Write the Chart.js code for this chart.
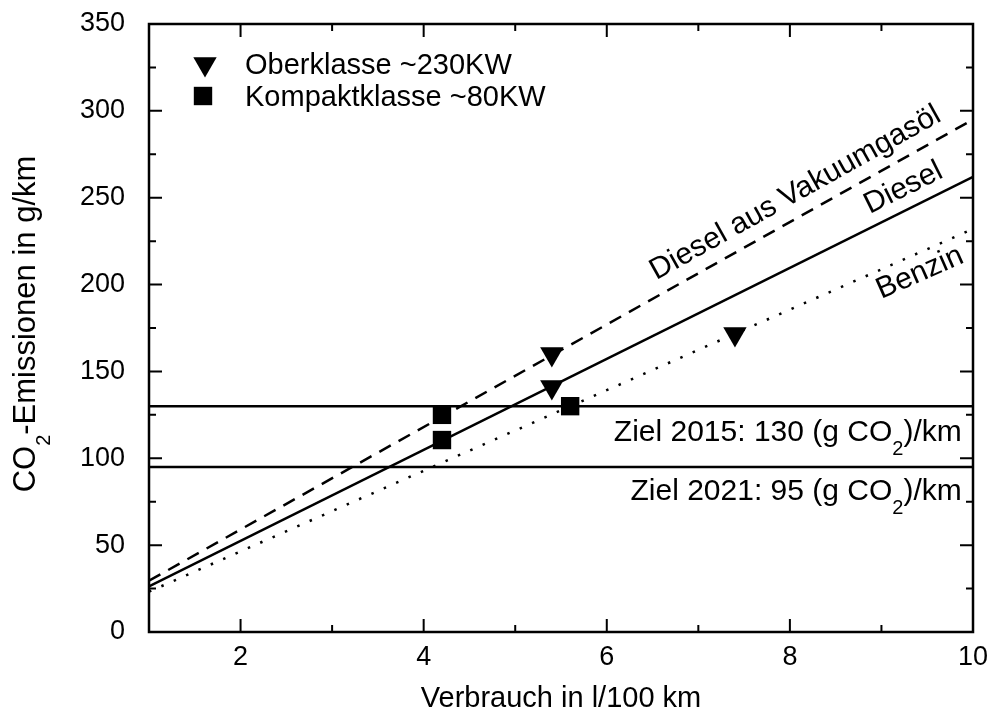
<!DOCTYPE html>
<html>
<head>
<meta charset="utf-8">
<script src="https://cdn.jsdelivr.net/npm/chart.js@4.4.1/dist/chart.umd.min.js"></script>
<style>
  html, body { margin: 0; padding: 0; background: #fff; }
  canvas { display: block; }
</style>
</head>
<body>
<canvas id="co2Chart" width="994" height="722"></canvas>
<script>
// --- data ---
const lineX = [1, 10];
const dieselVakuumY = [29.5, 295];
const dieselY = [26.2, 262];
const benzinY = [23.2, 232];
const ziel2015Y = [130, 130];
const ziel2021Y = [95, 95];

const oberklasseX = [5.4, 5.4, 7.4];
const oberklasseY = [160, 141, 171.5];
const kompaktX = [4.2, 4.2, 5.6];
const kompaktY = [125, 110.5, 130];

const xTickLabels = [2, 4, 6, 8, 10];
const xMinorTicks = [1, 3, 5, 7, 9];
const yTickLabels = [0, 50, 100, 150, 200, 250, 300, 350];
const yMinorTicks = [25, 75, 125, 175, 225, 275, 325];

const legendLabels = ['Oberklasse ~230KW', 'Kompaktklasse ~80KW'];

// text placed on the plot (anchor in data units)
const lineNotes = [
    { text: 'Diesel aus Vakuumgasöl', at: [8.06, 252.7], along: dieselVakuumY },
    { text: 'Diesel', at: [9.24, 255.6], along: dieselY },
    { text: 'Benzin', at: [9.42, 206.7], along: benzinY },
];
const zielNotes = [
    { parts: [['Ziel 2015: 130 (g CO'], ['2', true], [')/km']], at: [9.877, 116.3] },
    { parts: [['Ziel 2021: 95 (g CO'], ['2', true], [')/km']], at: [9.877, 82.3] },
];

const FONT = '"Liberation Sans", Arial, Helvetica, sans-serif';

function toPoints(xs, ys) {
    return xs.map((x, i) => ({ x, y: ys[i] }));
}

function richWidth(ctx, parts, size) {
    let w = 0;
    parts.forEach(([t, sub]) => {
        ctx.font = `${sub ? Math.round(size * 0.66) : size}px ${FONT}`;
        w += ctx.measureText(t).width;
    });
    return w;
}

// text with subscripts, left edge at x, baseline at y
function drawRich(ctx, parts, x, y, size) {
    parts.forEach(([t, sub]) => {
        ctx.font = `${sub ? Math.round(size * 0.66) : size}px ${FONT}`;
        ctx.fillText(t, x, sub ? y + size * 0.48 : y);
        x += ctx.measureText(t).width;
    });
}

function markerOpts(ds) {
    return { pointStyle: ds.pointStyle, radius: ds.pointRadius, rotation: ds.rotation || 0, borderWidth: 0 };
}

function noOverflow(s) {
    s.paddingTop = 0; s.paddingBottom = 0; s.paddingLeft = 0; s.paddingRight = 0;
}

const framePlugin = {
    id: 'frameAndNotes',
    afterDraw(chart) {
        const { ctx, chartArea: a, scales } = chart;
        const xs = scales.x, ys = scales.y;
        ctx.save();
        ctx.strokeStyle = '#000';
        ctx.fillStyle = '#000';
        ctx.lineWidth = 2.5;
        ctx.strokeRect(a.left, a.top, a.right - a.left, a.bottom - a.top);

        // inward ticks on all four sides
        const tick = (len, vals, horizontal) => {
            vals.forEach((v) => {
                ctx.beginPath();
                if (horizontal) {
                    const px = xs.getPixelForValue(v);
                    ctx.moveTo(px, a.bottom); ctx.lineTo(px, a.bottom - len);
                    ctx.moveTo(px, a.top); ctx.lineTo(px, a.top + len);
                } else {
                    const py = ys.getPixelForValue(v);
                    ctx.moveTo(a.left, py); ctx.lineTo(a.left + len, py);
                    ctx.moveTo(a.right, py); ctx.lineTo(a.right - len, py);
                }
                ctx.stroke();
            });
        };
        ctx.lineWidth = 2;
        tick(13, xTickLabels, true);
        tick(7, xMinorTicks, true);
        tick(13, yTickLabels, false);
        tick(7, yMinorTicks, false);

        // legend
        const sets = chart.data.datasets;
        const legendRows = [[sets[5], 205, 64], [sets[6], 203, 96]];
        legendRows.forEach(([ds, lx, ly], i) => {
            Chart.helpers.drawPoint(ctx, markerOpts(ds), lx, ly);
            ctx.font = `29px ${FONT}`;
            ctx.textAlign = 'left';
            ctx.textBaseline = 'alphabetic';
            ctx.fillText(legendLabels[i], 245, ly + 29 * 0.358);
        });

        // rotated labels along the lines
        lineNotes.forEach((n) => {
            const ang = Math.atan2(
                ys.getPixelForValue(n.along[1]) - ys.getPixelForValue(n.along[0]),
                xs.getPixelForValue(lineX[1]) - xs.getPixelForValue(lineX[0])
            );
            ctx.save();
            ctx.translate(xs.getPixelForValue(n.at[0]), ys.getPixelForValue(n.at[1]));
            ctx.rotate(ang);
            ctx.font = `30px ${FONT}`;
            ctx.textAlign = 'center';
            ctx.textBaseline = 'middle';
            ctx.fillText(n.text, 0, 0);
            ctx.restore();
        });

        // target labels, right aligned
        ctx.textAlign = 'left';
        ctx.textBaseline = 'alphabetic';
        zielNotes.forEach((n) => {
            const w = richWidth(ctx, n.parts, 30);
            drawRich(ctx, n.parts, xs.getPixelForValue(n.at[0]) - w, ys.getPixelForValue(n.at[1]) + 30 * 0.358, 30);
        });

        // axis titles
        const xTitle = [['Verbrauch in l/100 km']];
        const xw = richWidth(ctx, xTitle, 29);
        drawRich(ctx, xTitle, (a.left + a.right) / 2 - xw / 2, 697 + 29 * 0.358, 29);

        const yTitle = [['CO'], ['2', true], ['-Emissionen in g/km']];
        const yw = richWidth(ctx, yTitle, 31);
        ctx.save();
        ctx.translate(35, 324 + yw / 2);
        ctx.rotate(-Math.PI / 2);
        drawRich(ctx, yTitle, 0, 0, 31);
        ctx.restore();

        ctx.restore();
    },
};

const lineStyle = { showLine: true, pointRadius: 0, borderColor: '#000', borderWidth: 2.5, fill: false };

new Chart(document.getElementById('co2Chart'), {
    type: 'scatter',
    data: {
        datasets: [
            { ...lineStyle, label: 'Diesel aus Vakuumgasöl', data: toPoints(lineX, dieselVakuumY), borderDash: [13, 9] },
            { ...lineStyle, label: 'Diesel', data: toPoints(lineX, dieselY) },
            { ...lineStyle, label: 'Benzin', data: toPoints(lineX, benzinY), borderDash: [2.5, 11] },
            { ...lineStyle, label: 'Ziel 2015', data: toPoints(lineX, ziel2015Y) },
            { ...lineStyle, label: 'Ziel 2021', data: toPoints(lineX, ziel2021Y) },
            {
                label: legendLabels[0], data: toPoints(oberklasseX, oberklasseY),
                pointStyle: 'triangle', rotation: 180, pointRadius: 13.5,
                backgroundColor: '#000', borderColor: '#000', borderWidth: 0,
            },
            {
                label: legendLabels[1], data: toPoints(kompaktX, kompaktY),
                pointStyle: 'rect', pointRadius: 13,
                backgroundColor: '#000', borderColor: '#000', borderWidth: 0,
            },
        ],
    },
    options: {
        responsive: false,
        devicePixelRatio: 1,
        animation: false,
        events: [],
        layout: { padding: { left: 0, top: 24, right: 21, bottom: 0 } },
        plugins: { legend: { display: false }, tooltip: { enabled: false } },
        scales: {
            x: {
                type: 'linear',
                min: 1,
                max: 10,
                afterFit: (s) => { s.height = 90; noOverflow(s); },
                afterBuildTicks: (s) => { s.ticks = xTickLabels.map((v) => ({ value: v })); },
                grid: { display: false, drawTicks: false },
                border: { display: false },
                ticks: { color: '#000', font: { family: FONT, size: 27 }, padding: 9, maxRotation: 0, autoSkip: false },
            },
            y: {
                type: 'linear',
                min: 0,
                max: 350,
                afterFit: (s) => { s.width = 149; noOverflow(s); },
                afterBuildTicks: (s) => { s.ticks = yTickLabels.map((v) => ({ value: v })); },
                grid: { display: false, drawTicks: false },
                border: { display: false },
                ticks: { color: '#000', font: { family: FONT, size: 27 }, padding: 24 },
            },
        },
    },
    plugins: [framePlugin],
});
</script>
</body>
</html>
